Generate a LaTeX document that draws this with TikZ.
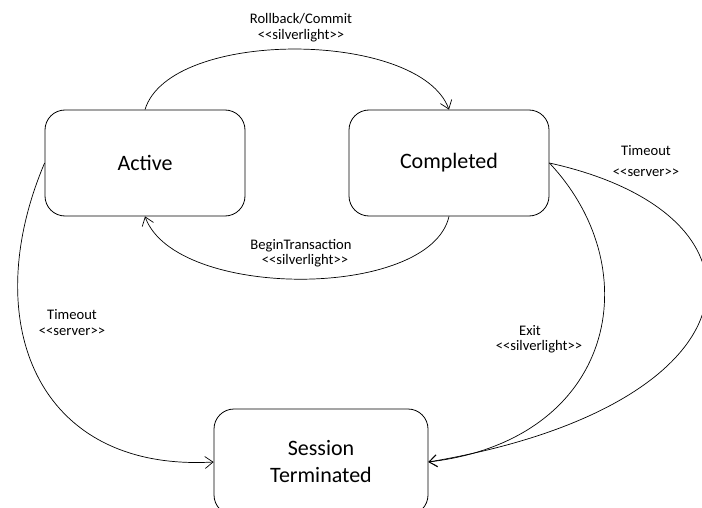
\documentclass[tikz,border=0pt]{standalone}
\usepackage{fontspec}
\setmainfont{Carlito}
\usetikzlibrary{arrows.meta}
% stereotype guillemets typed as two separate angle brackets
\newcommand\stereo[1]{<\kern0pt<#1>\kern0pt>}

\begin{document}
\begin{tikzpicture}[x=1pt,y=-1pt,
  state/.style={draw, rounded corners=20pt, minimum width=200pt,
    minimum height=106pt, line width=0.8pt, align=center, inner sep=0pt,
    font=\fontsize{22}{27}\selectfont},
  trans/.style={draw, line width=0.7pt,
    -{Straight Barb[length=8pt,width=12pt]}},
  lbl/.style={font=\fontsize{14.6}{16}\selectfont, inner sep=0pt,
    text height=0.7em, text depth=0.2em}]
\useasboundingbox (0,0) rectangle (702,508);
\clip (0,0) rectangle (702,508);

% states
\node[state] (active) at (145,163) {Active};
\node[state] (completed) at (449,163) {Completed};
\node[state, minimum width=214pt] (session) at (321,462) {Session\\Terminated};

% transitions
\draw[trans] (active.north) .. controls (170,28) and (420,30) .. (completed.north);
\draw[trans] (completed.south) .. controls (430,300) and (175,300) .. (active.south);
\draw[trans] (active.west) .. controls (-22,320) and (35,472) .. (session.west);
\draw[trans] (completed.east) .. controls (650,270) and (615,440) .. (session.east);
\draw[trans] (completed.east) .. controls (785,215) and (765,405) .. (session.east);

% transition labels
\node[lbl] (rbA) at (301,21) {Rollback/Commit};
\node[lbl] (rbB) at (301,37) {\stereo{silverlight}};
\node[lbl] (btA) at (301,247) {BeginTransaction};
\node[lbl] (btB) at (305,262) {\stereo{silverlight}};
\node[lbl] (toLA) at (72,317) {Timeout};
\node[lbl] (toLB) at (72,333) {\stereo{server}};
\node[lbl] (exA) at (530,333) {Exit};
\node[lbl] (exB) at (539,348) {\stereo{silverlight}};
\node[lbl] (toRA) at (646,153) {Timeout};
\node[lbl] (toRB) at (646,174) {\stereo{server}};
\end{tikzpicture}
\end{document}
